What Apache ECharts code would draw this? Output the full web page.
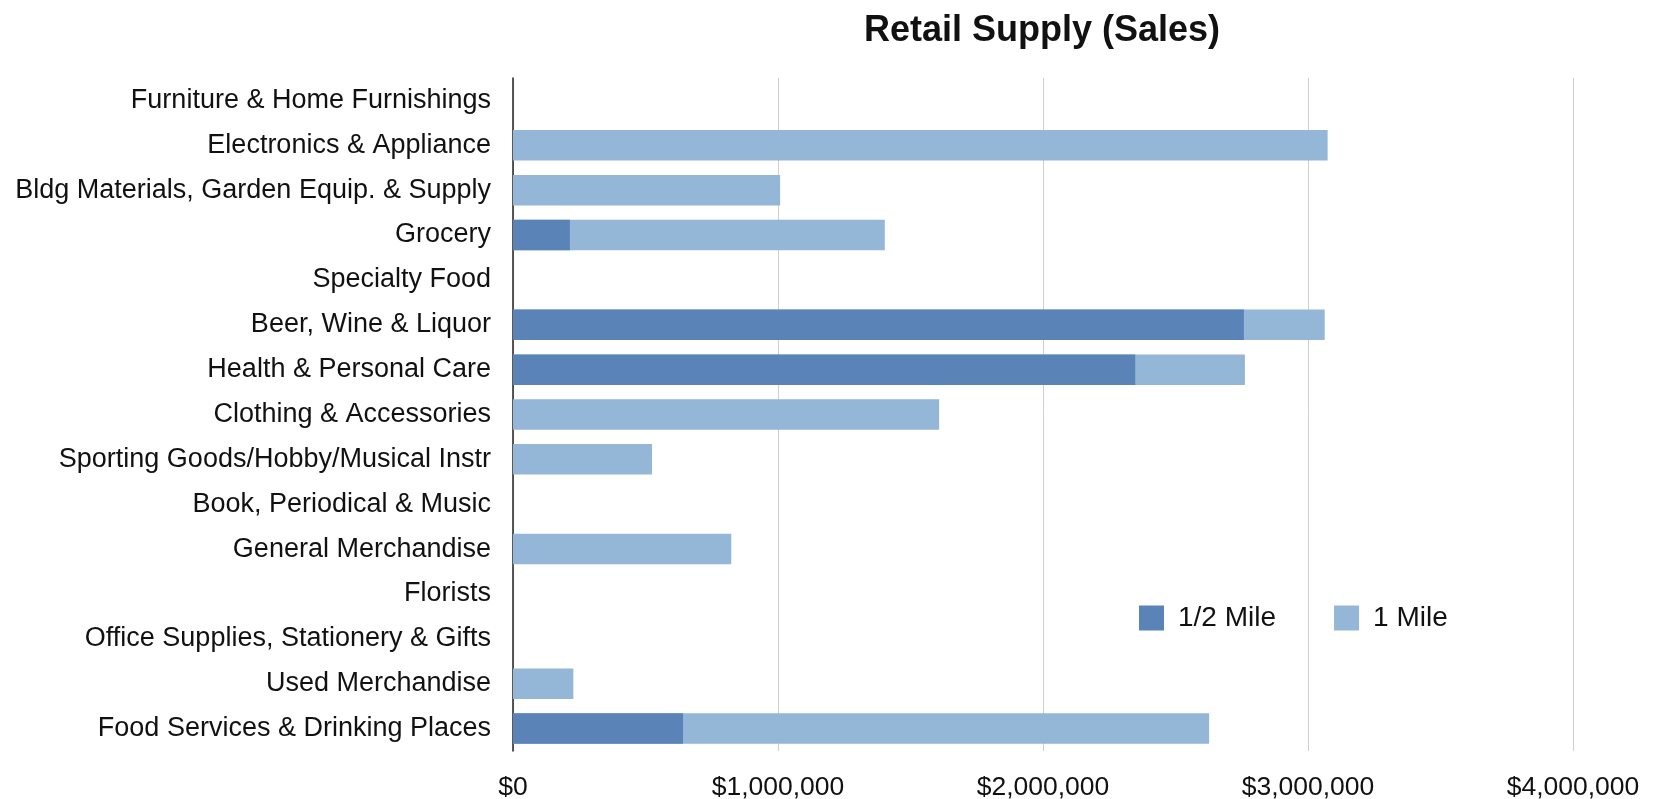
<!DOCTYPE html>
<html>
<head>
<meta charset="utf-8">
<title>Retail Supply (Sales)</title>
<script src="https://cdn.jsdelivr.net/npm/echarts@6/dist/echarts.min.js"></script>
<style>
  html, body { margin: 0; padding: 0; background: #fff; }
  #chart { width: 1653px; height: 799px; }
</style>
</head>
<body>
<div id="chart"></div>
<script>
// Retail categories, top to bottom
const categories = [
  'Furniture & Home Furnishings',
  'Electronics & Appliance',
  'Bldg Materials, Garden Equip. & Supply',
  'Grocery',
  'Specialty Food',
  'Beer, Wine & Liquor',
  'Health & Personal Care',
  'Clothing & Accessories',
  'Sporting Goods/Hobby/Musical Instr',
  'Book, Periodical & Music',
  'General Merchandise',
  'Florists',
  'Office Supplies, Stationery & Gifts',
  'Used Merchandise',
  'Food Services & Drinking Places'
];

// Sales within a half-mile radius
const halfMile = [0, 0, 0, 214600, 0, 2758000, 2348000, 0, 0, 0, 0, 0, 0, 0, 641600];

// Sales within a one-mile radius (includes the half-mile ring)
const oneMile = [0, 3074000, 1008000, 1403000, 0, 3063000, 2762000, 1608000, 524600, 0, 823700, 0, 0, 227700, 2627000];

// Value axis ticks
const axisMin = 0;
const axisMax = 4000000;
const axisStep = 1000000;

const FONT = '"Liberation Sans", Arial, Helvetica, sans-serif';
const DARK = '#5a83b7';
const LIGHT = '#94b6d7';

function money(v) {
  return '$' + Math.round(v).toString().replace(/\B(?=(\d{3})+(?!\d))/g, ',');
}

const chart = echarts.init(document.getElementById('chart'), null, { renderer: 'canvas' });

chart.setOption({
  animation: false,
  backgroundColor: '#ffffff',
  textStyle: { fontFamily: FONT },
  title: {
    text: 'Retail Supply (Sales)',
    left: 1037,
    textAlign: 'center',
    top: 8,
    textStyle: { fontFamily: FONT, fontSize: 36, fontWeight: 'bold', color: '#111' }
  },
  legend: {
    data: ['1/2 Mile', '1 Mile'],
    left: 1134,
    top: 599,
    itemWidth: 25,
    itemHeight: 25,
    itemGap: 58,
    icon: 'rect',
    textStyle: { fontFamily: FONT, fontSize: 28, color: '#111', padding: [0, 0, 0, 9] }
  },
  grid: {
    left: 513,
    right: 80,
    top: 78,
    bottom: 48,
    containLabel: false,
    outerBoundsMode: 'none'
  },
  xAxis: {
    type: 'value',
    min: axisMin,
    max: axisMax,
    interval: axisStep,
    axisLine: { show: false },
    axisTick: { show: false },
    axisLabel: {
      formatter: money,
      fontFamily: FONT,
      fontSize: 26.5,
      color: '#111',
      margin: 23
    },
    splitLine: { show: true, lineStyle: { color: '#cfcfcf', width: 1 } }
  },
  yAxis: {
    type: 'category',
    data: categories,
    inverse: true,
    axisLine: { show: true, lineStyle: { color: '#222', width: 1.5 } },
    axisTick: { show: false },
    axisLabel: {
      fontFamily: FONT,
      fontSize: 27,
      color: '#111',
      margin: 22,
      padding: [4, 0, 0, 0]
    },
    splitLine: { show: false }
  },
  series: [
    {
      name: '1/2 Mile',
      type: 'bar',
      data: halfMile,
      barWidth: '68%',
      barGap: '-100%',
      z: 3,
      itemStyle: { color: DARK }
    },
    {
      name: '1 Mile',
      type: 'bar',
      data: oneMile,
      barWidth: '68%',
      barGap: '-100%',
      z: 2,
      itemStyle: { color: LIGHT }
    }
  ]
});
</script>
</body>
</html>
